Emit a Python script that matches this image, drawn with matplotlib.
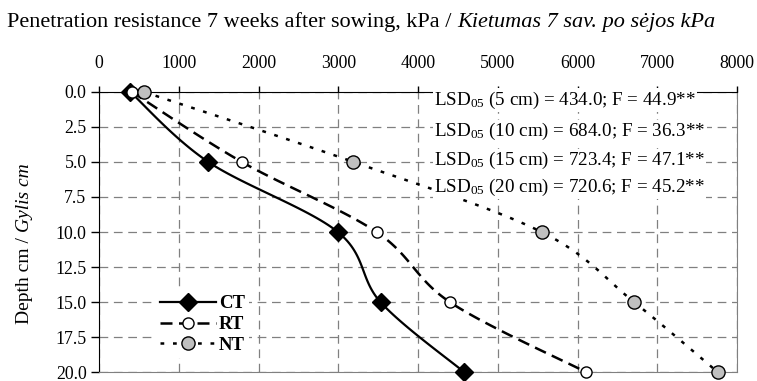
import numpy as np
import matplotlib.pyplot as plt

plt.rcParams['font.family'] = 'Liberation Serif'
plt.rcParams['mathtext.fontset'] = 'custom'
plt.rcParams['mathtext.rm'] = 'Liberation Serif'
plt.rcParams['mathtext.it'] = 'Liberation Serif:italic'
plt.rcParams['font.size'] = 12.8

# data
depth = [0.0, 5.0, 10.0, 15.0, 20.0]
ct = [390, 1370, 2995, 3530, 4580]
rt = [410, 1790, 3480, 4400, 6110]
nt = [560, 3190, 5550, 6710, 7760]
labels = ['CT', 'RT', 'NT']
lsd_texts = [
    r'LSD$_{\mathrm{05}}$ (5 cm) = 434.0; F = 44.9**',
    r'LSD$_{\mathrm{05}}$ (10 cm) = 684.0; F = 36.3**',
    r'LSD$_{\mathrm{05}}$ (15 cm) = 723.4; F = 47.1**',
    r'LSD$_{\mathrm{05}}$ (20 cm) = 720.6; F = 45.2**',
]


def smooth(x, y, sx=0.08, sy=14.05, n=30):
    # Excel-like smoothed line (Catmull-Rom bezier in pixel space)
    p = np.column_stack([np.asarray(x) * sx, np.asarray(y) * sy])
    pts = [p[0]]
    for i in range(len(p) - 1):
        p0 = p[i - 1] if i > 0 else p[i]
        p3 = p[i + 2] if i + 2 < len(p) else p[i + 1]
        c1 = p[i] + (p[i + 1] - p0) / 6
        c2 = p[i + 1] - (p3 - p[i]) / 6
        t = np.linspace(0, 1, n + 1)[1:, None]
        seg = ((1 - t) ** 3 * p[i] + 3 * (1 - t) ** 2 * t * c1
               + 3 * (1 - t) * t ** 2 * c2 + t ** 3 * p[i + 1])
        pts.extend(seg)
    pts = np.array(pts)
    return pts[:, 0] / sx, pts[:, 1] / sy, list(range(0, len(pts), n))


fig = plt.figure(figsize=(7.57, 3.81), dpi=100)
ax = fig.add_axes([0.1308, 0.023, 0.8428, 0.736])

styles = [
    dict(color='black', lw=1.6, ls='-', marker='D', ms=9, mfc='black', mec='black'),
    dict(color='black', lw=1.8, ls=(0, (4.8, 2.6)), marker='o', ms=8, mfc='white', mec='black', mew=1),
    dict(color='black', lw=1.8, ls=(0, (1.5, 3.5)), marker='o', ms=9.5, mfc='#c0c0c0', mec='black', mew=1),
]
for vals, lab, st in zip([ct, rt, nt], labels, styles):
    xs, ys, idx = smooth(vals, depth)
    ax.plot(xs, ys, markevery=idx, label=lab, zorder=3, clip_on=False, **st)

ax.set_xlim(0, 8000)
ax.set_ylim(20, 0)
ax.set_xticks(np.arange(0, 8001, 1000))
ax.set_yticks(np.arange(0, 20.01, 2.5))
ax.yaxis.set_major_formatter(plt.FormatStrFormatter('%.1f'))
ax.xaxis.tick_top()
ax.tick_params(axis='x', direction='out', length=4, pad=10, width=1)
ax.tick_params(axis='y', direction='out', length=6, pad=3, width=1)
ax.grid(True, color='#808080', ls=(0, (7, 4.5)), lw=0.9)
ax.set_axisbelow(True)
ax.spines['top'].set_color('black')
ax.spines['left'].set_color('black')
ax.spines['bottom'].set_color('#808080')
ax.spines['right'].set_color('#808080')

text_y = [0.6, 2.85, 4.9, 6.8]
for t, yy in zip(lsd_texts, text_y):
    ax.text(4200, yy, t, va='center', ha='left', zorder=4, fontsize=13.7,
            bbox=dict(facecolor='white', edgecolor='none', pad=1))

leg = ax.legend(loc='center left', bbox_to_anchor=(0.075, 0.17), frameon=True,
                edgecolor='none', framealpha=1, fancybox=False, borderpad=0.2,
                handlelength=3.0, handletextpad=0.15, labelspacing=0.2,
                prop={'weight': 'bold', 'size': 13.5})
leg.set_zorder(5)

t1 = fig.text(0.009, 0.93, 'Penetration resistance 7 weeks after sowing, kPa / ',
              ha='left', va='baseline', fontsize=16)
ax.annotate('Kietumas 7 sav. po sėjos kPa', xy=(1, 0), xycoords=t1,
            xytext=(0, 0), textcoords='offset points', fontstyle='italic',
            fontsize=16, ha='left', va='bottom', annotation_clip=False)
fig.text(0.033, 0.39, 'Depth cm / ', rotation=90, ha='center', va='top',
         fontsize=14)
fig.text(0.033, 0.39, 'Gylis cm', rotation=90, ha='center', va='bottom',
         fontsize=14, fontstyle='italic')

fig.savefig('out.png', dpi=100)
